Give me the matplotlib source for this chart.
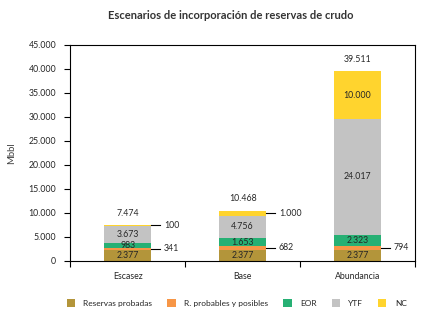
import numpy as np
import matplotlib
matplotlib.use('Agg')
from matplotlib import pyplot as plt

plt.rcParams['font.family'] = ['Lato', 'DejaVu Sans']

escenarios = ['Escasez', 'Base', 'Abundancia']
series = ['Reservas probadas', 'R. probables y posibles', 'EOR', 'YTF', 'NC']
probadas = [2377, 2377, 2377]
probables = [341, 682, 794]
eor = [983, 1653, 2323]
ytf = [3673, 4756, 24017]
nc = [100, 1000, 10000]
totales = [7474, 10468, 39511]

colores = ['#B3953A', '#F79646', '#27B074', '#C3C3C3', '#FFD42E']
valores = [probadas, probables, eor, ytf, nc]
# etiquetas que van fuera de la barra, con linea guia
fuera = [[False, False, False],
         [True, True, True],
         [False, False, False],
         [False, False, False],
         [True, True, False]]


def fmt(v):
    return f'{v:,}'.replace(',', '.')


fig = plt.figure(figsize=(4.36, 3.25), dpi=100)
ax = fig.add_axes([0.161, 0.197, 0.791, 0.665])

x = np.arange(len(escenarios))
ancho = 0.41
base = np.zeros(len(escenarios))
for nombre, vals, col, fu in zip(series, valores, colores, fuera):
    ax.bar(x, vals, ancho, bottom=base, color=col, label=nombre, zorder=2)
    for i, v in enumerate(vals):
        centro = base[i] + v / 2
        if not fu[i]:
            ax.text(x[i], centro, fmt(v), ha='center', va='center',
                    fontsize=6.3, color='#262626')
        else:
            x0 = x[i] + ancho / 2
            ax.plot([x0, x0 + 0.08], [centro, centro], color='black', lw=0.8,
                    clip_on=False)
            ax.text(x0 + 0.11, centro, fmt(v), ha='left', va='center',
                    fontsize=6.3, color='#262626')
    base += np.array(vals)

for i, t in enumerate(totales):
    ax.text(x[i], t + 2500, fmt(t), ha='center', va='center',
            fontsize=6.3, color='#262626')

ax.set_xlim(-0.5, 2.5)
ax.set_ylim(0, 45000)
ax.set_yticks(np.arange(0, 45001, 5000))
ax.set_yticklabels([fmt(v) for v in range(0, 45001, 5000)])
ax.set_xticks(x)
ax.set_xticklabels(escenarios)
ax.set_xticks([-0.5, 0.5, 1.5, 2.5], minor=True)
ax.tick_params(axis='x', which='major', length=0, labelsize=6.3, pad=8,
               labelcolor='#262626')
ax.tick_params(axis='x', which='minor', length=4, width=0.8, direction='out')
ax.tick_params(axis='y', length=4, width=0.8, labelsize=6.3, pad=6,
               labelcolor='#262626')
for s in ax.spines.values():
    s.set_linewidth(0.8)
ax.set_ylabel('Mbbl', fontsize=6.8, color='#404040', labelpad=9)

fig.text(0.53, 0.952, 'Escenarios de incorporación de reservas de crudo',
         ha='center', va='center', fontsize=8, fontweight='bold',
         color='#333333')

fig.legend(loc='center', bbox_to_anchor=(0.543, 0.068), ncol=5, frameon=False,
           fontsize=6.0, handlelength=1.0, handleheight=1.0, handletextpad=1.0,
           columnspacing=1.8, labelcolor='#262626')

fig.savefig('out.png', dpi=100)
